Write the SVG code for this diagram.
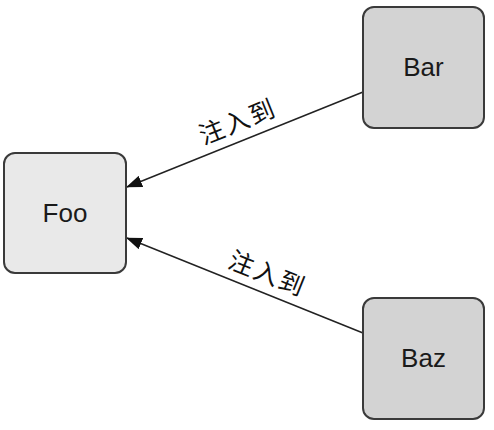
<svg xmlns="http://www.w3.org/2000/svg" width="494" height="430" viewBox="0 0 494 430">
  <style>
    .box { stroke: #3a3a3a; stroke-width: 2; }
    .light { fill: #e9e9e9; }
    .dark { fill: #d3d3d3; }
    .name { font-family: "Liberation Sans", Arial, sans-serif; font-size: 26px; fill: #1a1a1a; text-anchor: middle; }
    .edge { stroke: #222; stroke-width: 1.5; fill: none; marker-end: url(#arrow); }
    .lbl { font-family: "Noto Sans CJK SC", sans-serif; font-size: 25px; letter-spacing: 2px; fill: #111; text-anchor: middle; }
  </style>
  <defs>
    <marker id="arrow" viewBox="0 0 16 12" refX="15" refY="6" markerWidth="16" markerHeight="12" markerUnits="userSpaceOnUse" orient="auto">
      <path d="M0,0 L16,6 L0,12 Z" fill="#111"/>
    </marker>
  </defs>
  <rect width="494" height="430" fill="#ffffff"/>
  <g id="connectors">
    <line class="edge" x1="363" y1="92" x2="127" y2="187"/>
    <line class="edge" x1="363" y1="333" x2="127" y2="238"/>
    <text class="lbl" transform="translate(241,130) rotate(-21.9)">注入到</text>
    <text class="lbl" transform="translate(264,282) rotate(21.9)">注入到</text>
  </g>
  <g id="foo">
    <rect class="box light" x="4" y="153" width="122" height="120" rx="11"/>
    <text class="name" x="65" y="222">Foo</text>
  </g>
  <g id="bar">
    <rect class="box dark" x="363" y="7" width="121" height="121" rx="11"/>
    <text class="name" x="423.5" y="76">Bar</text>
  </g>
  <g id="baz">
    <rect class="box dark" x="363" y="298" width="121" height="121" rx="11"/>
    <text class="name" x="423.5" y="367">Baz</text>
  </g>
</svg>
